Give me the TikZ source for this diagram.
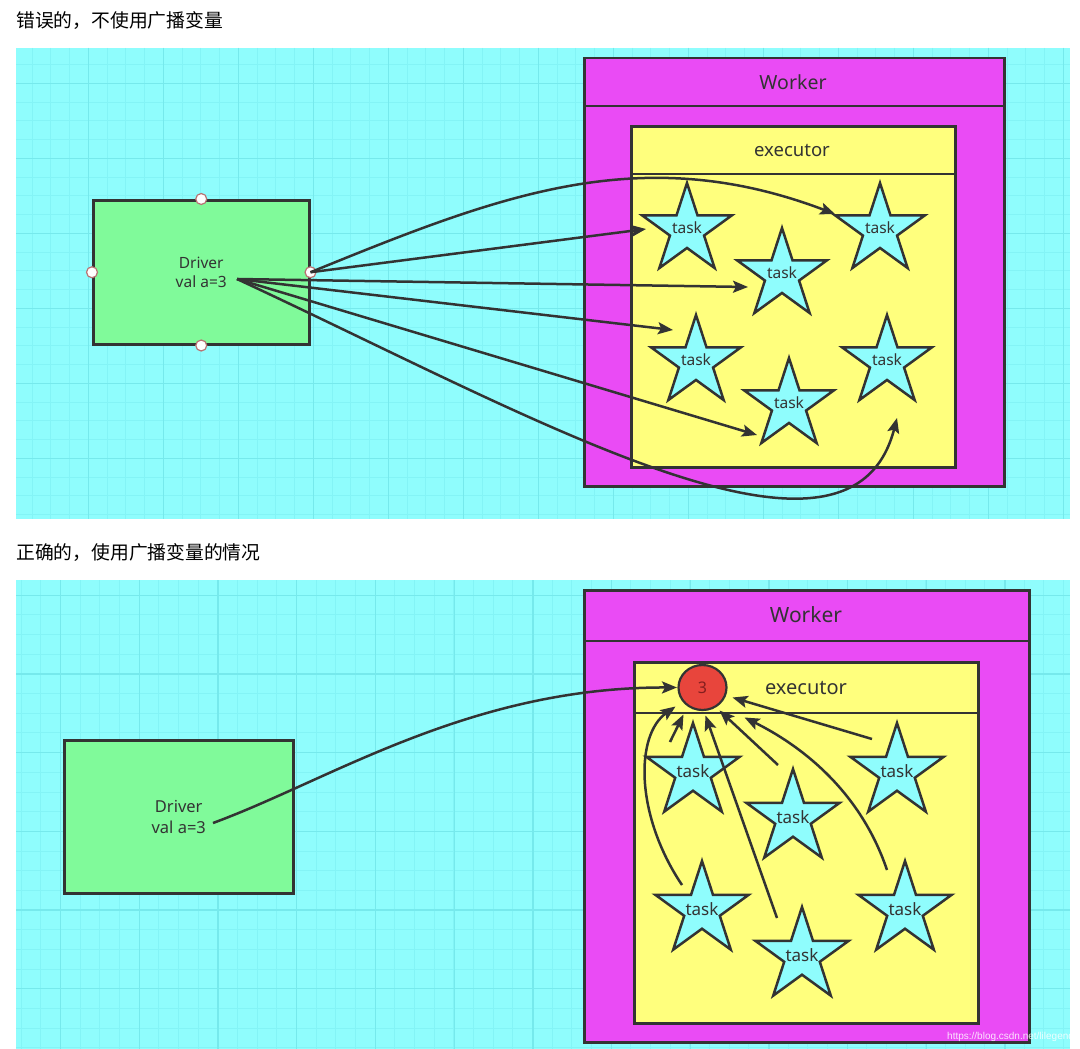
\documentclass[tikz,border=0pt]{standalone}
\usepackage{fontspec}
\setmainfont{Noto Sans}
\newfontfamily\cjk{Noto Sans CJK SC}
\newfontfamily\wmfont{Liberation Sans}
\usetikzlibrary{shapes.geometric,arrows.meta,calc}

\definecolor{bgcyan}{RGB}{143,253,253}
\definecolor{gminorc}{RGB}{131,244,246}
\definecolor{gmajorc}{RGB}{118,233,236}
\definecolor{drvgreen}{RGB}{128,250,154}
\definecolor{wkmag}{RGB}{234,75,245}
\definecolor{exyel}{RGB}{255,255,125}
\definecolor{starcyan}{RGB}{143,253,253}
\definecolor{redc}{RGB}{232,69,60}
\definecolor{edgec}{RGB}{51,51,51}
\definecolor{txtc}{RGB}{51,51,51}
\definecolor{handlec}{RGB}{185,115,115}
\definecolor{threec}{RGB}{130,30,30}

\tikzset{
  gminor/.style={draw=gminorc, line width=1pt},
  gmajor/.style={draw=gmajorc, line width=1.3pt},
  drvbox/.style={draw=edgec, fill=drvgreen, line width=2.5pt, rectangle, align=center, text=txtc, inner sep=0pt},
  wkbox/.style={draw=edgec, fill=wkmag, line width=2.5pt, rectangle, inner sep=0pt},
  exbox/.style={draw=edgec, fill=exyel, line width=2.5pt, rectangle, inner sep=0pt},
  divider/.style={draw=edgec, line width=2.5pt},
  lbl/.style={text=txtc, inner sep=0pt},
  taskstar/.style={shape=star, star points=5, star point ratio=2.618, inner sep=0pt,
     draw=edgec, fill=starcyan, line width=2.5pt},
  tasklbl/.style={text=txtc, inner sep=0pt},
  handle/.style={circle, minimum size=11pt, inner sep=0pt, fill=white, draw=handlec, line width=1.2pt},
  conn/.style={draw=edgec, line width=2.5pt, -{Stealth[length=15pt,width=12pt,inset=3pt]}},
  title/.style={anchor=west, inner sep=0pt, font=\cjk\fontsize{18.8}{21}\selectfont, text=black}
}

\begin{document}
\begin{tikzpicture}[x=1pt,y=-1pt]
\useasboundingbox (0,0) rectangle (1080,1049);
\fill[white] (0,0) rectangle (1080,1049);

% ---------- titles ----------
\node[title] (t1) at (16,21) {错误的，不使用广播变量};
\node[title] (t2) at (16,553) {正确的，使用广播变量的情况};

% ---------- panel 1 background ----------
\fill[bgcyan] (16,48) rectangle (1070,519);
\foreach \i in {0,...,55} \draw[gminor] ({32.05+18.75*\i},48) -- ({32.05+18.75*\i},519);
\foreach \j in {0,...,24} \draw[gminor] (16,{64.6+18.75*\j}) -- (1070,{64.6+18.75*\j});
\foreach \i in {0,...,13} \draw[gmajor] ({88.3+75*\i},48) -- ({88.3+75*\i},519);
\foreach \j in {0,...,5} \draw[gmajor] (16,{83.3+75*\j}) -- (1070,{83.3+75*\j});

% ---------- panel 2 background ----------
\fill[bgcyan] (16,580) rectangle (1070,1049);
\foreach \i in {0,...,53} \draw[gminor] ({21+19.67*\i},580) -- ({21+19.67*\i},1049);
\foreach \j in {0,...,23} \draw[gminor] (16,{595.3+19.67*\j}) -- (1070,{595.3+19.67*\j});
\foreach \i in {0,...,12} \draw[gmajor] ({60.7+78.7*\i},580) -- ({60.7+78.7*\i},1049);
\foreach \j in {0,...,5} \draw[gmajor] (16,{595.3+78.7*\j}) -- (1070,{595.3+78.7*\j});

% ================= TOP DIAGRAM =================
\node[drvbox, anchor=north west, minimum width=216pt, minimum height=144pt,
      font=\fontsize{15.5}{19}\selectfont] (drv1) at (92,199) {Driver\\val a=3};
\node[handle] (h1n) at (drv1.north) {};
\node[handle] (h1s) at (drv1.south) {};
\node[handle] (h1w) at (drv1.west) {};
\node[handle] (h1e) at (drv1.east) {};
\coordinate (o1) at (237,279);

\node[wkbox, anchor=north west, minimum width=420pt, minimum height=428pt] (wk1) at (583,57) {};
\draw[divider] (583,106) -- (1003,106);
\node[lbl, font=\fontsize{19.5}{22}\selectfont] (wl1) at (793,82) {Worker};

\node[exbox, anchor=north west, minimum width=324pt, minimum height=341pt] (ex1) at (630,125) {};
\draw[divider] (630,174) -- (954,174);
\node[lbl, font=\fontsize{18.5}{22}\selectfont] (el1) at (792,150) {executor};

\begin{scope}[every label/.append style={tasklbl, font=\fontsize{15.5}{18}\selectfont}]
\node[taskstar, minimum size=94pt, label={[yshift=2pt]center:task}] (sA) at (687,230) {};
\node[taskstar, minimum size=94pt, label={[yshift=2pt]center:task}] (sB) at (880,230) {};
\node[taskstar, minimum size=94pt, label={[yshift=2pt]center:task}] (sC) at (782,275) {};
\node[taskstar, minimum size=94pt, label={[yshift=2pt]center:task}] (sD) at (696,362) {};
\node[taskstar, minimum size=94pt, label={[yshift=2pt]center:task}] (sE) at (887,362) {};
\node[taskstar, minimum size=94pt, label={[yshift=2pt]center:task}] (sF) at (789,405) {};
\end{scope}

\draw[conn] (h1e.center) -- ($(sA.center)+(-41,-1)$);
\draw[conn] (h1e.center) .. controls (500,195) and (640,140) .. ($(sB.center)+(-45,-16)$);
\draw[conn] (o1) -- ($(sC.center)+(-34,12)$);
\draw[conn] (o1) -- ($(sD.center)+(-23,-32)$);
\draw[conn] (o1) -- ($(sF.center)+(-32,30)$);
\draw[conn] (o1) .. controls (540,420) and (850,600) .. ($(sE.center)+(10,56)$);

% ================= BOTTOM DIAGRAM =================
\node[drvbox, anchor=north west, minimum width=229pt, minimum height=153pt,
      font=\fontsize{16.5}{21}\selectfont] (drv2) at (63,739) {Driver\\val a=3};
\coordinate (o2) at (213,823);

\node[wkbox, anchor=north west, minimum width=445pt, minimum height=452pt] (wk2) at (583,589) {};
\draw[divider] (583,641) -- (1028,641);
\node[lbl, font=\fontsize{21}{24}\selectfont] (wl2) at (806,615) {Worker};

\node[exbox, anchor=north west, minimum width=344pt, minimum height=361pt] (ex2) at (633,661) {};
\draw[divider] (633,713) -- (977,713);
\node[lbl, font=\fontsize{20}{24}\selectfont] (el2) at (806,688) {executor};

\node[ellipse, draw=edgec, fill=redc, line width=2.2pt, minimum width=48pt, minimum height=45pt,
      inner sep=0pt, text=threec, font=\fontsize{16}{18}\selectfont] (c3) at (702.5,687.5) {3};

\begin{scope}[every label/.append style={tasklbl, font=\fontsize{17}{20}\selectfont}]
\node[taskstar, minimum size=98pt, label={[yshift=1pt]center:task}] (bA) at (693,772) {};
\node[taskstar, minimum size=98pt, label={[yshift=1pt]center:task}] (bB) at (897,772) {};
\node[taskstar, minimum size=98pt, label={[yshift=1pt]center:task}] (bC) at (793,818) {};
\node[taskstar, minimum size=98pt, label={[yshift=1pt]center:task}] (bD) at (702,910) {};
\node[taskstar, minimum size=98pt, label={[yshift=1pt]center:task}] (bE) at (905,910) {};
\node[taskstar, minimum size=98pt, label={[yshift=1pt]center:task}] (bF) at (802,956) {};
\end{scope}

\draw[conn] (o2) .. controls (330,780) and (470,687) .. ($(c3.center)+(-25.5,0)$);
\draw[conn] ($(bD.center)+(-20,-25)$) .. controls (635,815) and (635,735) .. ($(c3.center)+(-27,19)$);
\draw[conn] ($(bA.center)+(-23,-30)$) -- ($(c3.center)+(-19,27)$);
\draw[conn] ($(bF.center)+(-25,-38)$) -- ($(c3.center)+(3,28)$);
\draw[conn] ($(bC.center)+(-15,-53)$) -- ($(c3.center)+(17,23)$);
\draw[conn] ($(bE.center)+(-18,-40)$) .. controls (860,790) and (800,745) .. ($(c3.center)+(42,30)$);
\draw[conn] ($(bB.center)+(-25,-33)$) -- ($(c3.center)+(30,10)$);

\node[anchor=west, inner sep=0pt, text=white, opacity=0.85, font=\wmfont\fontsize{10}{12}\selectfont] (wm) at (947,1037) {https://blog.csdn.net/lilegend};
\end{tikzpicture}
\end{document}
